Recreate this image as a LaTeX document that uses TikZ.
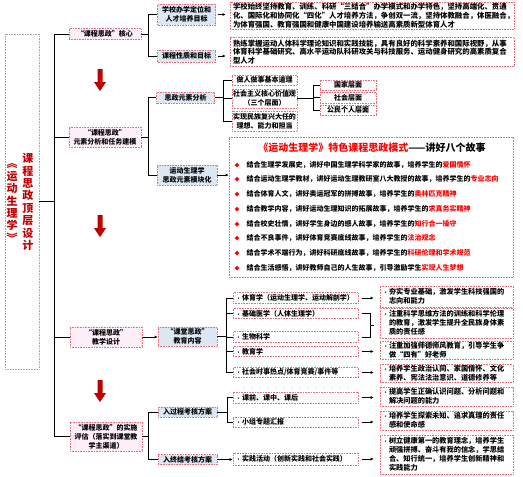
\documentclass[tikz,border=0pt]{standalone}
\usepackage{fontspec}
\setmainfont{Noto Sans CJK SC}
\usetikzlibrary{arrows.meta}
\definecolor{dotred}{RGB}{228,110,125}
\definecolor{pinkfill}{RGB}{253,238,248}
\definecolor{bluefill}{RGB}{221,231,243}
\definecolor{titlered}{RGB}{192,0,0}
\definecolor{hired}{RGB}{255,0,0}
\newcommand\bl{\makebox[6pt][l]{\fontsize{5}{5}\selectfont•}}
\newcommand\ind{\hspace*{6pt}}
\newcommand\hl[1]{\textcolor{hired}{#1}}
\tikzset{
  box/.style={draw=dotred, densely dotted, line width=0.6pt, inner sep=1pt, font=\fontsize{7}{9}\selectfont\bfseries},
  lvone/.style={box, fill=pinkfill, align=center, minimum width=72},
  lvtwo/.style={box, fill=bluefill, align=center, minimum width=58},
  wbox/.style={box, fill=white, align=center, minimum width=65},
  tbox/.style={box, fill=white, inner xsep=3pt, text width=278, align=left, font=\fontsize{7.4}{8.8}\selectfont\bfseries},
  sbox/.style={box, fill=white, inner xsep=3pt, text width=119, align=left},
  obox/.style={box, fill=white, inner xsep=3pt, text width=127, align=left, font=\fontsize{7.2}{9}\selectfont\bfseries},
  conn/.style={line width=0.7pt},
  arr/.style={conn, -{Latex[length=3pt,width=3pt]}},
}
\begin{document}
\begin{tikzpicture}[x=1pt,y=-1pt]
  \useasboundingbox (0,0) rectangle (523,477);

  \node[box, draw=gray!70, fill=white, minimum width=34, minimum height=335] (ttl) at (22,201.5) {};
  \node[font=\fontsize{11}{12.4}\selectfont\bfseries, text=titlered, align=center, inner sep=0] (ttlA) at (28,202) {课\\程\\思\\政\\顶\\层\\设\\计};
  \node[font=\fontsize{11}{12.4}\selectfont\bfseries, text=titlered, align=center, inner sep=0] (ttlB) at (12,203) {︽\\运\\动\\生\\理\\学\\︾};

  \node[lvone, minimum height=11] (core) at (105,34) {“课程思政”核心};
  \node[lvone, minimum height=20] (model) at (105,137) {“课程思政”\\元素分析和任务建模};
  \node[lvone, minimum height=20] (design) at (106,337) {“课程思政”\\教学设计};
  \node[lvone, minimum height=29] (assess) at (106,436.5) {“课程思政”的实施\\评估（落实到课堂教\\学主渠道）};

  \coordinate (trunk) at (54,0);
  \draw[conn] (core.west) -- (core.west -| trunk) -- (assess.west -| trunk) -- (assess.west);
  \draw[conn] (model.west) -- (model.west -| trunk);
  \draw[conn] (design.west) -- (design.west -| trunk);
  \draw[conn] (ttl.east) -- (ttl.east -| trunk);

  \foreach \y in {69,215,380}
    \fill[titlered] (97.5,\y) -- ++(5,0) -- ++(0,13) -- ++(3.5,0) -- ++(-6,9) -- ++(-6,-9) -- ++(3.5,0) -- cycle;

  % core
  \coordinate (b1) at (148,0);
  \node[lvtwo, minimum height=21] (aim) at (186.5,14.5) {学校办学定位和\\人才培养目标};
  \node[lvtwo, minimum height=12] (goal) at (186.5,56) {课程性质和目标};
  \draw[conn] (core.east) -- (core.east -| b1);
  \draw[conn] (aim.west) -- (aim.west -| b1) -- (goal.west -| b1) -- (goal.west);
  \node[tbox, minimum height=27] (aimtxt) at (372,15.5) {学校始终坚持教育、训练、科研“三结合”办学模式和办学特色，坚持高端化、贯通\\化、国际化和协同化“四化”人才培养方法，争创双一流，坚持体教融合，体医融合，\\为体育强国、教育强国和健康中国建设培养输送高素质新型体育人才};
  \node[tbox, minimum height=29] (goaltxt) at (372,52) {熟练掌握运动人体科学理论知识和实践技能，具有良好的科学素养和国际视野，从事\\体育科学基础研究、高水平运动队科研攻关与科技服务、运动健身研究的高素质复合\\型人才};
  \draw[arr, shorten <=2pt, shorten >=4pt] (aim.east) -- (aim.east -| aimtxt.west);
  \draw[arr, shorten <=2pt, shorten >=4pt] (goal.east) -- (goal.east -| goaltxt.west);

  % elements
  \node[lvtwo, minimum height=11] (elem) at (185.5,97.5) {思政元素分析};
  \node[lvtwo, minimum height=20, minimum width=60] (modu) at (187,175) {运动生理学\\思政元素模块化};
  \draw[conn] (model.east) -- (model.east -| b1);
  \draw[conn] (elem.west) -- (elem.west -| b1) -- (modu.west -| b1) -- (modu.west);

  \coordinate (b2) at (223,0);
  \node[wbox, minimum height=10] (moral) at (264.5,80) {做人做事基本道理};
  \node[wbox, minimum height=19] (value) at (264.5,98.5) {社会主义核心价值观\\（三个层面）};
  \node[wbox, minimum height=20] (ideal) at (264.5,121) {实现民族复兴大任的\\理想、能力和担当};
  \draw[conn] (elem.east) -- (elem.east -| b2);
  \draw[conn] (moral.west) -- (moral.west -| b2) -- (ideal.west -| b2) -- (ideal.west);
  \draw[conn] (value.west) -- (value.west -| b2);

  \coordinate (b3) at (313,0);
  \node[wbox, minimum width=56, minimum height=10] (nation) at (348,85) {国家层面};
  \node[wbox, minimum width=56, minimum height=11] (society) at (348,97.5) {社会层面};
  \node[wbox, minimum width=56, minimum height=10] (citizen) at (348,110) {公民个人层面};
  \draw[conn] (value.east) -- (value.east -| b3);
  \draw[conn] (nation.west) -- (nation.west -| b3) -- (citizen.west -| b3) -- (citizen.west);
  \draw[conn] (society.west) -- (society.west -| b3);

  \node[box, fill=white, minimum width=284, minimum height=140] (story) at (371,207) {};
  \node[font=\fontsize{10}{12}\selectfont\bfseries, inner sep=0] (storyttl) at (372,148) {\hl{《运动生理学》特色课程思政模式}——讲好八个故事};
  \draw[arr] (modu.east) -- (modu.east -| story.west);
  \foreach \i/\txt/\gl in {
    1/结合生理学发展史，讲好中国生理学科学家的故事，培养学生的/爱国情怀,
    2/结合运动生理学教材，讲好运动生理教研室八大教授的故事，培养学生的/专业志向,
    3/结合体育人文，讲好奥运冠军的拼搏故事，培养学生的/奥林匹克精神,
    4/结合教学内容，讲好运动生理知识的拓展故事，培养学生的/求真务实精神,
    5/结合校史壮情，讲好学生身边的感人故事，培养学生的/知行合一操守,
    6/结合不良事件，讲好体育竞赛底线故事，培养学生的/法治观念,
    7/结合学术不端行为，讲好科研底线故事，培养学生的/科研伦理和学术规范,
    8/结合生活感悟，讲好教师自己的人生故事，引导激励学生/实现人生梦想}
    \node[anchor=west, inner sep=0, font=\fontsize{7}{9}\selectfont\bfseries] (item\i) at (234.5,150+14.7*\i)
      {\textcolor{hired}{\fontsize{5}{5}\selectfont◆}\hspace{7pt}\txt\hl{\gl}};

  % design
  \node[lvtwo, minimum height=19, minimum width=59] (cls) at (187.5,336.5) {“课堂思政”\\教育内容};
  \draw[arr] (design.east) -- (design.east -| cls.west);
  \coordinate (b4) at (226,0);
  \node[sbox, minimum height=10.5] (sport) at (295.5,298) {\bl 体育学（运动生理学、运动解剖学）};
  \node[sbox, minimum height=10.5] (medi) at (295.5,313.5) {\bl 基础医学（人体生理学）};
  \node[sbox, minimum height=10.5] (bio) at (295.5,337) {\bl 生物科学};
  \node[sbox, minimum height=10.5] (edu) at (295.5,351.5) {\bl 教育学};
  \node[sbox, minimum height=10.5] (news) at (295.5,372.5) {\bl 社会时事热点/体育竞赛/事件等};
  \draw[conn] (cls.east) -- (cls.east -| b4);
  \draw[conn] (sport.west) -- (sport.west -| b4) -- (news.west -| b4) -- (news.west);
  \foreach \n in {medi,bio,edu}
    \draw[conn] (\n.west) -- (\n.west -| b4);

  \node[obox, minimum height=21] (out1) at (446.5,296.5) {\bl 夯实专业基础，激发学生科技强国的\\\ind 志向和能力};
  \node[obox, minimum height=30] (out2) at (446.5,323) {\bl 注重科学思维方法的训练和科学伦理\\\ind 的教育，激发学生提升全民族身体素\\\ind 质的责任感};
  \node[obox, minimum height=18] (out3) at (446.5,350) {\bl 注重加强师德师风教育，引导学生争\\\ind 做“四有”好老师};
  \node[obox, minimum height=18] (out4) at (446.5,373.5) {\bl 培养学生政治认同、家国情怀、文化\\\ind 素养、宪法法治意识、道德修养等};
  \node[obox, minimum height=19] (out5) at (446.5,396.5) {\bl 提高学生正确认识问题、分析问题和\\\ind 解决问题的能力};
  \node[obox, minimum height=19] (out6) at (446.5,420.5) {\bl 培养学生探索未知、追求真理的责任\\\ind 感和使命感};
  \node[obox, minimum height=39] (out7) at (446.5,454.5) {\bl 树立健康第一的教育理念，培养学生\\\ind 顽强拼搏、奋斗有我的信念，学思结\\\ind 合、知行统一，培养学生创新精神和\\\ind 实践能力};

  \draw[conn] ([xshift=4pt]medi.east) -| ([xshift=12pt]bio.east) -- ([xshift=4pt]bio.east);
  \coordinate (brc) at (370,325);
  \draw[conn] (brc) -- ++(4,0);

  % assessment
  \node[lvtwo, minimum height=10, minimum width=59] (proc) at (187.5,412) {入过程考核方案};
  \node[lvtwo, minimum height=10, minimum width=59] (final) at (187.5,459.5) {入终结考核方案};
  \draw[conn] (assess.east) -- (assess.east -| b1);
  \draw[conn] (proc.west) -- (proc.west -| b1) -- (final.west -| b1) -- (final.west);
  \coordinate (b5) at (227,0);
  \node[sbox, minimum height=11] (stage) at (295.5,397.5) {\bl 课前、课中、课后};
  \node[sbox, minimum height=10] (group) at (295.5,422) {\bl 小组专题汇报};
  \node[sbox, minimum height=12] (prac) at (295.5,459) {\bl 实践活动（创新实践和社会实践）};
  \draw[conn] (proc.east) -- (proc.east -| b5);
  \draw[conn] (stage.west) -- (stage.west -| b5) -- (group.west -| b5) -- (group.west);
  \draw[arr] (final.east) -- (final.east -| prac.west);

  \foreach \a/\b in {sport/out1, edu/out3, news/out4, stage/out5, group/out6, prac/out7}
    \draw[arr, shorten <=4pt, shorten >=6pt] (\a.east) -- (\a.east -| \b.west);
\end{tikzpicture}
\end{document}
